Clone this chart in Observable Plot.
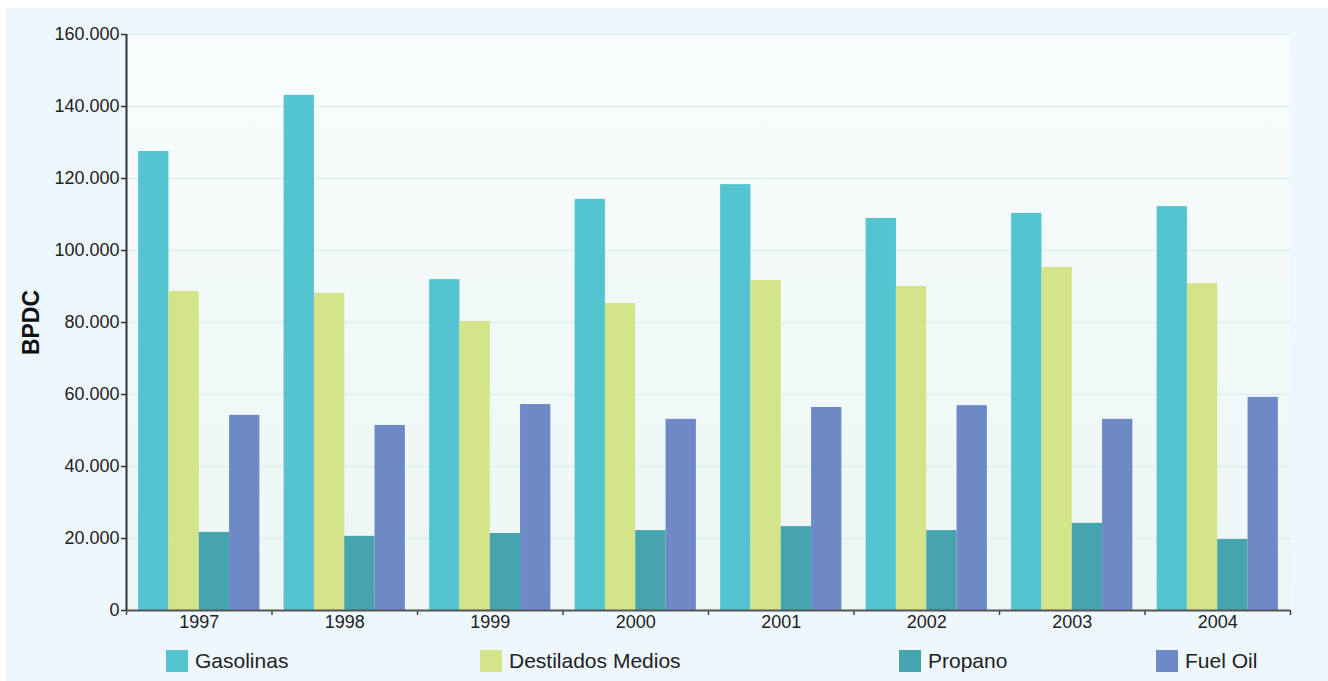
<!DOCTYPE html>
<html>
<head>
<meta charset="utf-8">
<script src="https://cdn.jsdelivr.net/npm/d3@7"></script>
<script src="https://cdn.jsdelivr.net/npm/@observablehq/plot@0.6"></script>
<style>
  html, body { margin: 0; padding: 0; background: #ffffff; }
  body { width: 1328px; height: 681px; position: relative; overflow: hidden; font-family: "Liberation Sans", Arial, sans-serif; }
  #panel { position: absolute; left: 6px; top: 8px; width: 1322px; height: 673px; background: #eff7fe; }
  #chart { position: absolute; left: 0; top: 0; }
  .legend-item { position: absolute; top: 641px; display: flex; align-items: center; font-size: 21px; color: #222; }
  .legend-item .sw { width: 22px; height: 22px; margin-right: 7px; }
</style>
</head>
<body>
<div id="panel">
  <div id="chart"></div>
  <div id="legend"></div>
</div>
<script>
const years = ["1997", "1998", "1999", "2000", "2001", "2002", "2003", "2004"];
const series = ["Gasolinas", "Destilados Medios", "Propano", "Fuel Oil"];
const colors = ["#54c4d0", "#d4e488", "#45a4ad", "#6d8ac6"];
const gasolinas  = [127500, 143100, 91900, 114200, 118300, 108900, 110300, 112200];
const destilados = [88600, 88100, 80300, 85300, 91700, 90000, 95300, 90800];
const propano    = [21700, 20600, 21400, 22200, 23300, 22200, 24200, 19700];
const fuelOil    = [54200, 51400, 57200, 53100, 56400, 56900, 53100, 59200];
const yTicks = [0, 20000, 40000, 60000, 80000, 100000, 120000, 140000, 160000];

const values = [gasolinas, destilados, propano, fuelOil];
const data = [];
years.forEach((y, i) => series.forEach((s, j) => data.push({year: y, i, j, series: s, value: values[j][i]})));

const fmt = d3.formatLocale({decimal: ",", thousands: ".", grouping: [3], currency: ["", ""]}).format(",d");
const pad = 1 / 12, bw = (1 - 2 * pad) / 4;

const plot = Plot.plot({
  width: 1322,
  height: 630,
  marginLeft: 120,
  marginRight: 38,
  marginTop: 26,
  marginBottom: 28,
  style: {fontFamily: "'Liberation Sans', Arial, sans-serif", background: "transparent", color: "#222"},
  x: {type: "linear", domain: [0, years.length], axis: null},
  y: {domain: [0, 160000], axis: null},
  color: {domain: series, range: colors},
  marks: [
    Plot.frame({fill: "url(#plotbg)", stroke: "none"}),
    Plot.gridY({ticks: yTicks, stroke: "#dcefef", strokeOpacity: 1, strokeWidth: 1.5}),
    Plot.rectY(data, {
      x1: d => d.i + pad + d.j * bw,
      x2: d => d.i + pad + (d.j + 1) * bw,
      y: "value",
      fill: "series"
    }),
    Plot.axisY({ticks: yTicks, tickFormat: fmt, tickSize: 5, tickPadding: 2, fontSize: 18, stroke: "#333", strokeWidth: 1.5, label: null}),
    Plot.axisX({ticks: d3.range(0, years.length + 1), tickFormat: () => "", tickSize: 5, stroke: "#444", strokeWidth: 1.5, label: null}),
    Plot.axisX({ticks: years.map((_, i) => i + 0.5), tickFormat: v => years[Math.floor(v)], tickSize: 0, tickPadding: 5, fontSize: 18, label: null}),
    Plot.ruleY([0], {stroke: "#555", strokeWidth: 2}),
    Plot.ruleX([0], {stroke: "#333", strokeWidth: 2}),
    Plot.text(["BPDC"], {frameAnchor: "left", textAnchor: "middle", rotate: -90, dx: -95, fontSize: 23, fontWeight: "bold", fill: "#111"})
  ]
});

const svg = d3.select(plot);
const defs = svg.insert("defs", ":first-child");
const g = defs.append("linearGradient").attr("id", "plotbg").attr("x1", 0).attr("y1", 0).attr("x2", 0).attr("y2", 1);
g.append("stop").attr("offset", "0%").attr("stop-color", "#f8fcfd");
g.append("stop").attr("offset", "100%").attr("stop-color", "#edf6f5");
document.getElementById("chart").appendChild(plot);

const legendX = [160, 474, 893, 1150];
const legend = document.getElementById("legend");
series.forEach((s, j) => {
  const item = document.createElement("div");
  item.className = "legend-item";
  item.style.left = legendX[j] + "px";
  const sw = document.createElement("div");
  sw.className = "sw";
  sw.style.background = colors[j];
  const t = document.createElement("span");
  t.textContent = s;
  item.appendChild(sw);
  item.appendChild(t);
  legend.appendChild(item);
});
</script>
</body>
</html>
